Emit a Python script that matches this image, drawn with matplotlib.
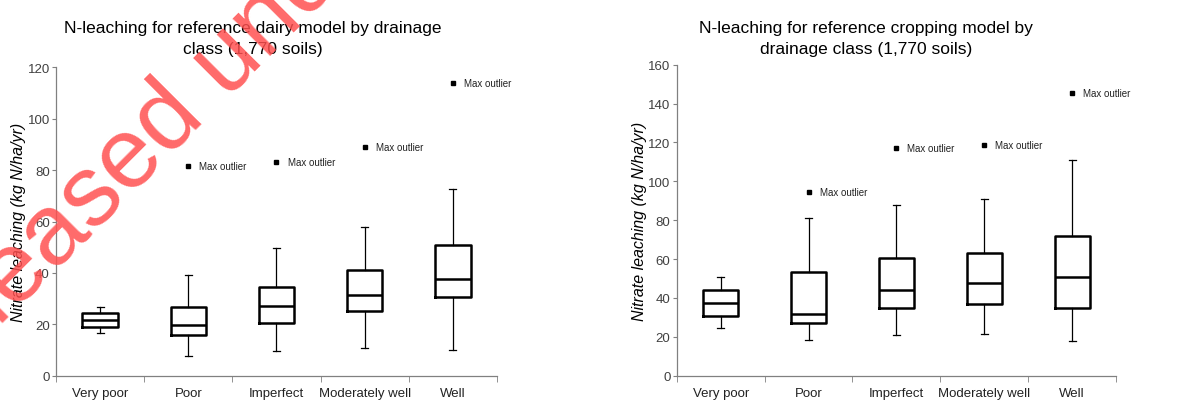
import matplotlib
matplotlib.use('Agg')
import matplotlib.pyplot as plt
import numpy as np

plt.rcParams['font.family'] = ['Liberation Sans', 'DejaVu Sans']

categories = ['Very poor', 'Poor', 'Imperfect', 'Moderately well', 'Well']

# dairy model (kg N/ha/yr)
dairy_low = [16.5, 7.7, 9.7, 10.6, 10.2]
dairy_q1 = [19.1, 15.8, 20.4, 25.3, 30.5]
dairy_med = [21.5, 19.7, 27.2, 31.4, 37.6]
dairy_q3 = [24.3, 26.6, 34.4, 41.0, 50.7]
dairy_high = [26.9, 39.3, 49.7, 58.0, 72.8]
dairy_max = [None, 81.6, 83.0, 89.0, 113.9]

# cropping model (kg N/ha/yr)
crop_low = [24.4, 18.4, 21.1, 21.4, 17.7]
crop_q1 = [30.9, 27.3, 34.8, 36.7, 34.8]
crop_med = [37.6, 31.7, 43.9, 47.8, 50.9]
crop_q3 = [44.2, 53.3, 60.4, 63.3, 71.9]
crop_high = [50.6, 80.9, 87.6, 90.9, 110.8]
crop_max = [None, 94.7, 117.0, 118.8, 145.4]


def draw_panel(ax, low, q1, med, q3, high, mx, ymax):
    stats = []
    for i in range(len(categories)):
        stats.append({'whislo': low[i], 'q1': q1[i], 'med': med[i], 'q3': q3[i],
                      'whishi': high[i], 'fliers': [], 'label': categories[i]})
    ax.bxp(stats, positions=np.arange(len(categories)), widths=0.4, showfliers=False,
           boxprops={'color': 'black', 'linewidth': 1.8},
           medianprops={'color': 'black', 'linewidth': 1.8},
           whiskerprops={'color': 'black', 'linewidth': 0.9},
           capprops={'color': 'black', 'linewidth': 0.9},
           capwidths=0.08)
    for i, v in enumerate(mx):
        if v is None:
            continue
        ax.plot(i, v, 's', color='black', markersize=3.5)
        ax.annotate('Max outlier', (i, v), xytext=(8, 0), textcoords='offset points',
                    va='center', ha='left', fontsize=7, color='#222222')
    ax.set_xlim(-0.5, len(categories) - 0.5)
    ax.set_ylim(0, ymax)
    ax.set_yticks(np.arange(0, ymax + 1, 20))
    ax.set_xticks(np.arange(len(categories)))
    ax.set_xticklabels(categories, fontsize=9.5)
    ax.set_xticks(np.arange(-0.5, len(categories)), minor=True)
    ax.tick_params(axis='x', which='major', length=0, pad=8)
    ax.tick_params(axis='x', which='minor', length=4, color='#808080', direction='out')
    ax.tick_params(axis='y', length=3, pad=1.5, color='#808080', labelsize=9.5, labelcolor='#404040')
    ax.tick_params(axis='x', labelcolor='#222222')
    for s in ['top', 'right']:
        ax.spines[s].set_visible(False)
    for s in ['left', 'bottom']:
        ax.spines[s].set_color('#808080')
        ax.spines[s].set_linewidth(0.9)
    ax.set_ylabel('Nitrate leaching (kg N/ha/yr)', fontstyle='italic', fontsize=11.5, labelpad=1)


fig = plt.figure(figsize=(11.99, 4.02), dpi=100)
ax1 = fig.add_axes([0.0467, 0.0629, 0.3678, 0.767])
ax2 = fig.add_axes([0.5644, 0.0629, 0.3664, 0.7736])

draw_panel(ax1, dairy_low, dairy_q1, dairy_med, dairy_q3, dairy_high, dairy_max, 120)
draw_panel(ax2, crop_low, crop_q1, crop_med, crop_q3, crop_high, crop_max, 160)

fig.text(253 / 1199, 1 - 39 / 402, 'N-leaching for reference dairy model by drainage\nclass (1,770 soils)',
         ha='center', va='center', fontsize=12.5, linespacing=1.55)
fig.text(866 / 1199, 1 - 39 / 402, 'N-leaching for reference cropping model by\ndrainage class (1,770 soils)',
         ha='center', va='center', fontsize=12.5, linespacing=1.55)

# watermark
fig.text(-92 / 1199, 1 - 418 / 402, 'Released under the Official Information Act',
         rotation=45, rotation_mode='anchor', ha='left', va='baseline',
         fontsize=72, color='#ff5050', alpha=0.85, zorder=10)

fig.savefig('out.png', dpi=100)
